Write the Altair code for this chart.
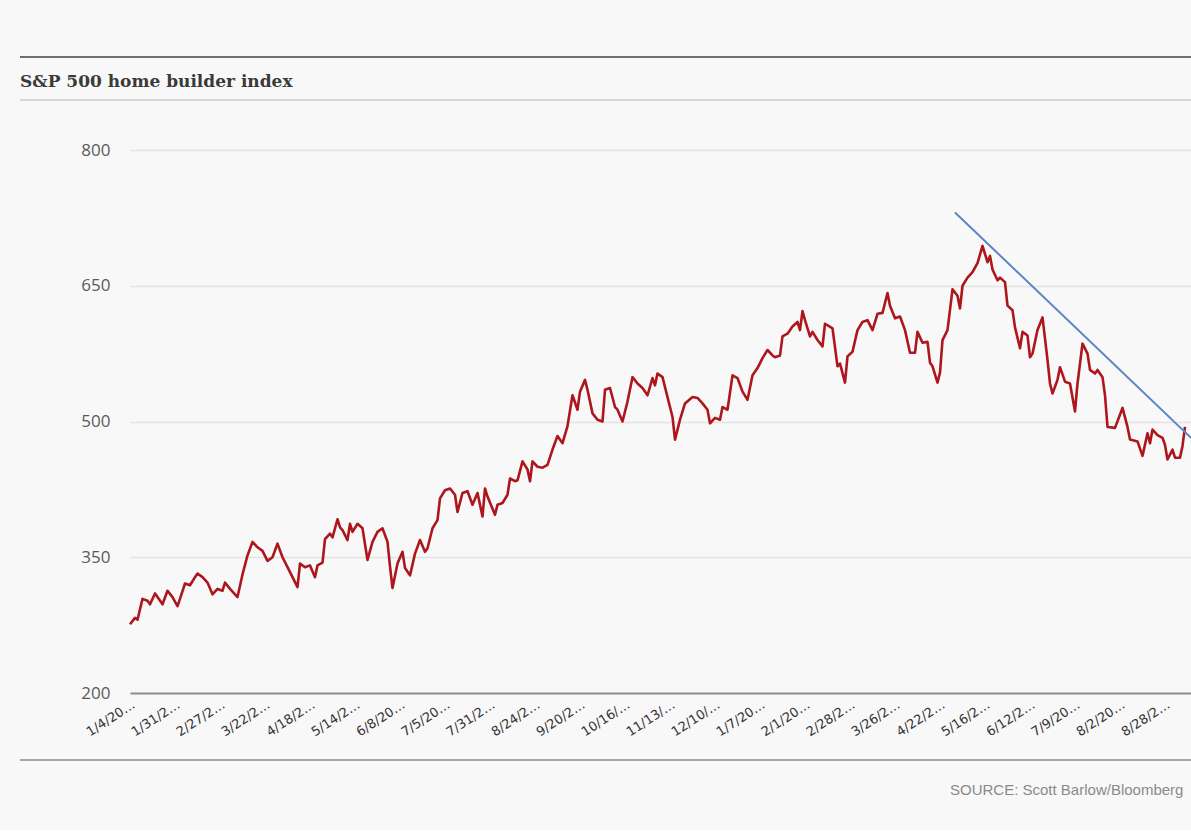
import altair as alt
import pandas as pd

TITLE = "S&P 500 home builder index"
SOURCE = "SOURCE: Scott Barlow/Bloomberg"

# trading-day index and index level
day = [0, 2, 3, 5, 7, 8, 10, 11, 13, 15, 17, 19, 20, 22, 24, 26, 27, 29, 31, 33,
       35, 37, 38, 40, 43, 45, 47, 49, 51, 53, 55, 57, 59, 61, 63, 65, 67, 68, 70, 72,
       74, 75, 77, 78, 80, 81, 83, 84, 85, 87, 88, 89, 91, 93, 95, 97, 99, 101, 103, 104,
       105, 107, 109, 110, 112, 114, 116, 118, 119, 121, 123, 124, 126, 128, 130, 131, 133, 135, 137, 139,
       141, 142, 143, 146, 147, 149, 151, 152, 154, 155, 157, 159, 160, 161, 163, 165, 167, 169, 171, 173,
       175, 177, 179, 180, 182, 183, 185, 187, 189, 190, 192, 194, 195, 197, 199, 201, 203, 205, 207, 209,
       210, 211, 213, 215, 217, 218, 220, 222, 225, 227, 229, 231, 232, 234, 236, 237, 239, 241, 243, 245,
       247, 249, 251, 253, 255, 257, 258, 260, 261, 263, 265, 267, 268, 269, 270, 271, 272, 273, 275, 277,
       278, 281, 283, 284, 286, 287, 289, 291, 293, 295, 297, 299, 301, 303, 304, 306, 308, 310, 312, 314,
       315, 317, 319, 320, 321, 323, 324, 325, 327, 329, 331, 332, 333, 335, 337, 339, 341, 343, 344, 345,
       347, 348, 350, 351, 353, 354, 356, 357, 359, 360, 361, 363, 365, 367, 368, 369, 371, 372, 374, 376,
       378, 379, 381, 383, 384, 386, 387, 389, 390, 391, 394, 397, 399, 400, 403, 405, 407, 408, 409, 411,
       413, 414, 415, 417, 418, 420, 421, 422]
value = [276, 283, 281, 304, 302, 298, 310, 306, 298, 313, 306, 296, 304, 321, 319, 328, 332, 328, 322, 309,
         315, 313, 322, 315, 306, 331, 352, 367, 361, 357, 346, 350, 365, 350, 339, 328, 317, 343, 339, 341,
         328, 341, 344, 370, 376, 372, 392, 383, 380, 369, 387, 378, 387, 382, 347, 367, 378, 382, 367, 340,
         316, 343, 356, 338, 330, 354, 369, 356, 360, 382, 391, 415, 424, 426, 419, 400, 421, 423, 408, 421,
         395, 426, 417, 397, 408, 410, 419, 437, 434, 435, 456, 447, 434, 456, 450, 449, 452, 469, 484, 476,
         495, 529, 513, 533, 546, 535, 509, 502, 500, 535, 537, 516, 513, 500, 522, 549, 542, 537, 529, 548,
         540, 553, 549, 527, 505, 480, 502, 520, 527, 526, 520, 513, 498, 504, 502, 516, 513, 551, 548, 533,
         524, 551, 559, 570, 579, 573, 571, 573, 594, 597, 605, 610, 601, 622, 612, 603, 594, 599, 590, 583,
         608, 603, 561, 564, 543, 572, 577, 601, 610, 612, 601, 619, 620, 642, 628, 614, 616, 601, 576, 576,
         599, 587, 588, 565, 561, 543, 554, 590, 601, 646, 639, 625, 650, 659, 665, 675, 694, 676, 683, 668,
         656, 659, 654, 628, 623, 604, 581, 599, 595, 571, 575, 601, 615, 568, 542, 531, 546, 560, 544, 542,
         511, 542, 586, 575, 557, 553, 557, 549, 529, 494, 493, 515, 494, 480, 478, 462, 487, 476, 491, 485,
         482, 474, 458, 469, 460, 460, 473, 494]

# blue trend line drawn over the decline
trend_day = [330, 424.4]
trend_value = [731, 482]

tick_labels = ["1/4/20…", "1/31/2…", "2/27/2…", "3/22/2…", "4/18/2…", "5/14/2…",
               "6/8/20…", "7/5/20…", "7/31/2…", "8/24/2…", "9/20/2…", "10/16/…",
               "11/13/…", "12/10/…", "1/7/20…", "2/1/20…", "2/28/2…", "3/26/2…",
               "4/22/2…", "5/16/2…", "6/12/2…", "7/9/20…", "8/2/20…", "8/28/2…"]
tick_days = [18 * i for i in range(len(tick_labels))]
y_ticks = [200, 350, 500, 650, 800]
x_domain = [0, 424.4]
y_domain = [200, 800]

W, H = 1061, 543
PAD_L, PAD_T = 130, 150

df = pd.DataFrame({"day": day, "value": value})
tdf = pd.DataFrame({"day": trend_day, "value": trend_value})
one = pd.DataFrame({"title": [TITLE], "source": [SOURCE]})

x_scale = alt.Scale(domain=x_domain, nice=False, zero=False)
y_scale = alt.Scale(domain=y_domain, nice=False, zero=False)

label_expr = ("[" + ",".join("'" + s + "'" for s in tick_labels) + "]"
              + "[indexof([" + ",".join(str(d) for d in tick_days) + "], datum.value)]")

line = alt.Chart(df).mark_line(color="#ad161c", strokeWidth=2.6, strokeJoin="round").encode(
    x=alt.X("day:Q", scale=x_scale,
            axis=alt.Axis(values=tick_days, labelExpr=label_expr, title=None, grid=False,
                          ticks=False, tickSize=0, domain=True, domainColor="#8f8f8f", domainWidth=2,
                          labelAngle=-33, labelAlign="right", labelBaseline="top",
                          labelFont="DejaVu Sans", labelFontSize=13, labelColor="#333333",
                          labelPadding=5, labelOverlap=False, labelBound=False, labelFlush=False)),
    y=alt.Y("value:Q", scale=y_scale,
            axis=alt.Axis(values=y_ticks, title=None, grid=True, gridColor="#e3e3e3", gridWidth=1.5,
                          ticks=False, tickSize=0, domain=False, labelPadding=20,
                          labelFont="Open Sans", labelFontSize=17, labelColor="#5a5a5a")),
)

trend = alt.Chart(tdf).mark_line(color="#5b86c6", strokeWidth=2).encode(
    x=alt.X("day:Q", scale=x_scale, title=None),
    y=alt.Y("value:Q", scale=y_scale, title=None),
)

top_rule = alt.Chart(one).mark_rule(color="#6e6e6e", strokeWidth=2).encode(
    x=alt.value(20 - PAD_L), x2=alt.value(W), y=alt.value(57 - PAD_T))
title_rule = alt.Chart(one).mark_rule(color="#b5b5b5", strokeWidth=1).encode(
    x=alt.value(20 - PAD_L), x2=alt.value(W), y=alt.value(100 - PAD_T))
bottom_rule = alt.Chart(one).mark_rule(color="#a8a8a8", strokeWidth=2).encode(
    x=alt.value(20 - PAD_L), x2=alt.value(W), y=alt.value(760 - PAD_T))

title = alt.Chart(one).mark_text(align="left", baseline="alphabetic", font="DejaVu Serif",
                                 fontSize=17, fontWeight="bold", color="#3a3a3a").encode(
    x=alt.value(20 - PAD_L), y=alt.value(87 - PAD_T), text="title:N")

source = alt.Chart(one).mark_text(align="left", baseline="alphabetic", font="Liberation Sans",
                                  fontSize=15, color="#8a8a8a").encode(
    x=alt.value(950 - PAD_L), y=alt.value(795 - PAD_T), text="source:N")

chart = alt.layer(line, trend, top_rule, title_rule, bottom_rule, title, source).properties(
    width=W, height=H,
    autosize=alt.AutoSizeParams(type="none"),
    padding={"left": PAD_L, "top": PAD_T, "right": 0, "bottom": 137},
    background="#f8f8f8",
).configure_view(stroke=None)

chart.save("out.html", embed_options={"renderer": "svg", "actions": False})
